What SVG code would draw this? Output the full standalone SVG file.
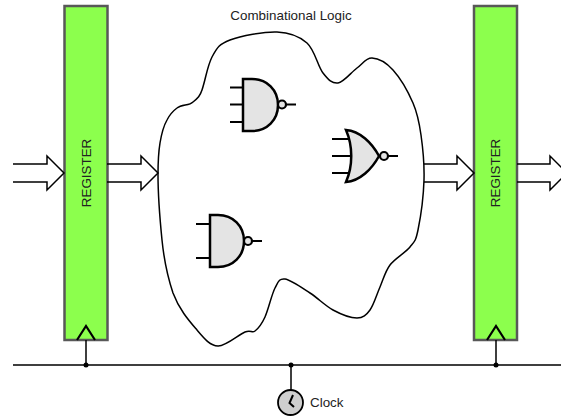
<svg xmlns="http://www.w3.org/2000/svg" width="561" height="419" viewBox="0 0 561 419">
<style>
text{font-family:"Liberation Sans",Arial,sans-serif;fill:#222;font-size:13.400px}
.reg{fill:#8cff4d;stroke:#585858;stroke-width:2.500}
.ln{fill:none;stroke:#000;stroke-width:1.500}
.gate{fill:#e4e4e4;stroke:#000;stroke-width:2.500;stroke-linejoin:miter}
.pin{fill:none;stroke:#000;stroke-width:2.200}
.bub{fill:#e4e4e4;stroke:#000;stroke-width:2.200}
.dot{fill:#000}
</style>
<rect width="561" height="419" fill="#fff"/>
<g id="combinational-logic">
<path d="M277 32C289.800 32.500 299.300 36.200 307 43C314.700 49.800 317.800 66.300 323 73C328.200 79.700 332.300 83.800 338 83C343.700 82.200 351.300 72.200 357 68C362.700 63.800 366 57.700 372 58C378 58.300 386.200 62.500 393 70C399.800 77.500 408.300 92.200 413 103C417.700 113.800 419.200 122.200 421 135C422.800 147.800 424.500 164.200 424 180C423.500 195.800 420.300 218.800 418 230C415.700 241.200 414.700 241.200 410 247C405.300 252.800 395 258.300 390 265C385 271.700 383.300 279.500 380 287C376.700 294.500 373.800 304.800 370 310C366.200 315.200 363.200 318 357 318C350.800 318 340.800 314.200 333 310C325.200 305.800 318 298.200 310 293C302 287.800 290.800 279.800 285 279C279.200 278.200 278.300 281.700 275 288C271.700 294.300 268.300 309.800 265 317C261.700 324.200 258.300 328.500 255 331C251.700 333.500 251.200 329.500 245 332C238.800 334.500 226 346.300 218 346C210 345.700 204.500 338.800 197 330C189.500 321.200 179.200 309.700 173 293C168 278 163.500 255 162 240C159.500 215 158 195 158 175C158 160 158.500 152 160 143C161.500 134 163 127 167 120C170 114 173 111 177 108C182 104 189 106 193 102C198 98 200 96 202 90C206 78 207 67 212 57C217.500 47 219.200 44.200 230 40C240.800 35.800 264.200 31.500 277 32Z" fill="#fff" stroke="#000" stroke-width="1.500"/>
<text x="291" y="20" text-anchor="middle">Combinational Logic</text>
</g>
<g id="register-left">
<rect class="reg" x="64.500" y="6" width="43" height="334"/>
<text transform="translate(91 173) rotate(-90)" text-anchor="middle">REGISTER</text>
<path class="pin" d="M77 340L86 326L95 340"/>
</g>
<g id="register-right">
<rect class="reg" x="474" y="6" width="43" height="334"/>
<text transform="translate(500 173) rotate(-90)" text-anchor="middle">REGISTER</text>
<path class="pin" d="M487 340L496 326L505 340"/>
</g>
<g id="gate-nand3">
<path class="pin" d="M230 87.500H243M230 104.500H243M230 122H243M286 104.500H296"/>
<path class="gate" d="M243 79H252C267 79 278 90 278 105C278 120 267 131 252 131H243Z"/>
<circle class="bub" cx="282" cy="104.500" r="4"/>
</g>
<g id="gate-nor3">
<path class="pin" d="M332 139H348M332 156H351M332 173H348M388 156H398"/>
<path class="gate" d="M346 130C360 131 372 143 379 156C372 169 360 181 346 182C353 166 353 146 346 130Z"/>
<circle class="bub" cx="384" cy="156" r="4"/>
</g>
<g id="gate-nand2">
<path class="pin" d="M196 224H210M196 258H210M252 241H262"/>
<path class="gate" d="M210 215H218C233 215 244 226 244 241C244 256 233 267 218 267H210Z"/>
<circle class="bub" cx="248" cy="241" r="4"/>
</g>
<g id="clock">
<circle cx="290.500" cy="402.500" r="12.500" fill="#cfcfcf" stroke="#000" stroke-width="1.800"/>
<path d="M293 395L289.500 403L294 407" fill="none" stroke="#000" stroke-width="2"/>
<text x="310" y="407">Clock</text>
</g>
<g id="connectors">
<path class="ln" d="M13 164H47V156L64 173L47 190V182H13"/>
<path class="ln" d="M107 164H141V156L158 173L141 190V182H107"/>
<path class="ln" d="M424 164H457V156L474 173L457 190V182H424"/>
<path class="ln" d="M517 164H550V156L567 173L550 190V182H517"/>
<path class="ln" d="M13 365H561M86 340V365M496 340V365M291 365V390"/>
<circle class="dot" cx="86" cy="365" r="2.500"/>
<circle class="dot" cx="291" cy="365" r="2.500"/>
<circle class="dot" cx="496" cy="365" r="2.500"/>
</g>
</svg>
